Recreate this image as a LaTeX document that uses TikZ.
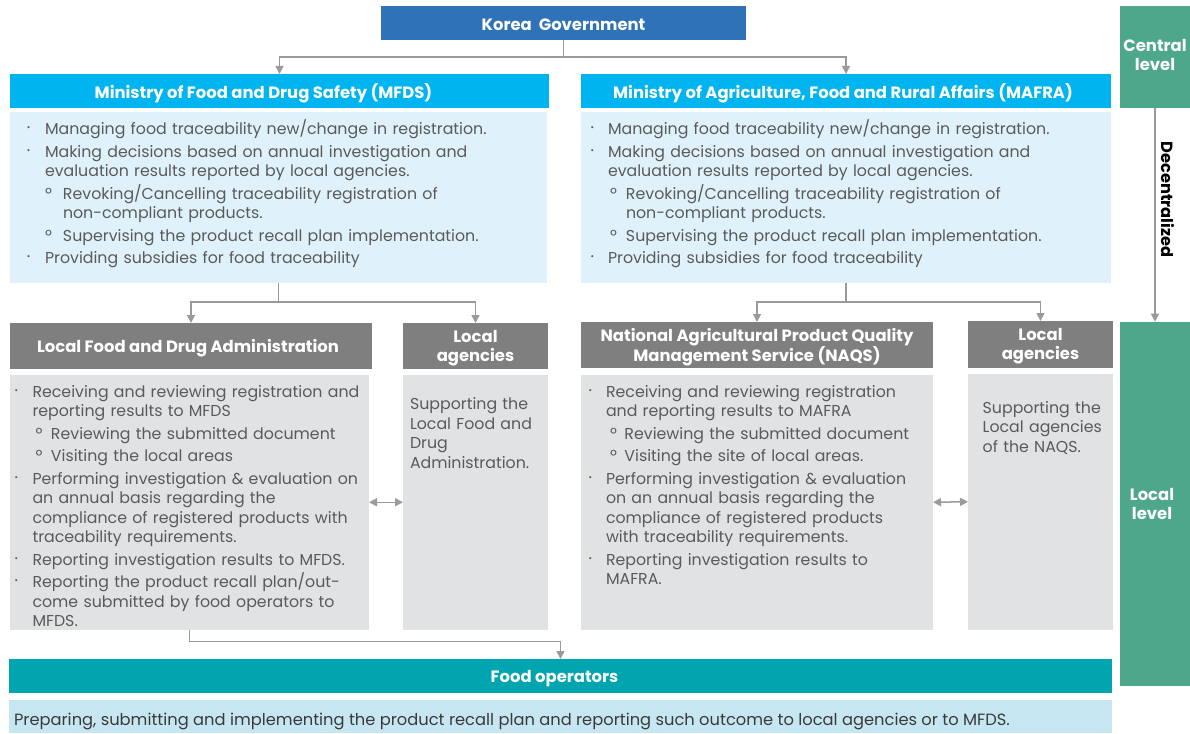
\documentclass[tikz,border=0pt]{standalone}
\usepackage{fontspec}
\setmainfont{Poppins}
\usetikzlibrary{arrows.meta,calc}
\definecolor{kgblue}{HTML}{2F72B7}
\definecolor{cyanhdr}{HTML}{00B5EF}
\definecolor{lightblue}{HTML}{DFF2FB}
\definecolor{levelgreen}{HTML}{4DA78B}
\definecolor{darkgray}{HTML}{7F7F7F}
\definecolor{lightgray}{HTML}{E1E2E4}
\definecolor{teal}{HTML}{00A5AF}
\definecolor{barblue}{HTML}{C6E7F1}
\definecolor{arrgray}{HTML}{9A9A9A}
\definecolor{txtgray}{HTML}{5A5A5A}
\definecolor{bartext}{HTML}{3A3A3A}
\newlength\bi \newlength\si \newlength\so
\newcommand\bul{\raisebox{3.6pt}{\fontsize{8.5}{8.5}\selectfont •}}
\newcommand\fitm{\hangindent=\bi\hangafter=1\noindent\makebox[\bi][l]{\bul}}
\newcommand\itm{\par\fitm}
\newcommand\sitm{\par\hangindent=\si\hangafter=1\noindent\makebox[\si][l]{\hspace{\so}º}}
\begin{document}
\begin{tikzpicture}[x=1pt,y=-1pt,
  box/.style={anchor=north west, inner sep=0pt, outer sep=0pt, draw=none},
  htxt/.style={inner sep=0pt, text=white, font=\bfseries\fontsize{16.4}{19}\selectfont, align=center},
  txt/.style={inner sep=0pt, outer sep=0pt, anchor=base west, align=left, text=txtgray, font=\fontsize{15.8}{19.5}\selectfont},
  conn/.style={draw=arrgray, line width=1.5pt, -{Triangle[width=8pt,length=8pt]}},
  dconn/.style={draw=arrgray, line width=1.5pt, {Triangle[width=8pt,length=8pt]}-{Triangle[width=8pt,length=8pt]}}]
\useasboundingbox (0,0) rectangle (1190,733);

% top level
\node[box, fill=kgblue, minimum width=365pt, minimum height=34pt] (kg) at (381,6) {};
\node[htxt] (kgL) at ($(kg.center)+(0,2)$) {Korea\ \ Government};
\node[box, fill=levelgreen, minimum width=70pt, minimum height=102pt] (central) at (1120,6) {};
\node[htxt] (centralL) at ($(central.center)+(0,-2.5)$) {Central\\level};

% ministries
\node[box, fill=cyanhdr, minimum width=539pt, minimum height=34pt] (mfdsH) at (10,74) {};
\node[htxt] (mfdsL) at ($(mfdsH.center)+(-16,2.5)$) {Ministry of Food and Drug Safety (MFDS)};
\node[box, fill=lightblue, minimum width=537pt, minimum height=171pt] (mfdsB) at (10,112) {};
\node[box, fill=cyanhdr, minimum width=530pt, minimum height=34pt] (mafraH) at (581,74) {};
\node[htxt] (mafraL) at ($(mafraH.center)+(-3,2.5)$) {Ministry of Agriculture, Food and Rural Affairs (MAFRA)};
\node[box, fill=lightblue, minimum width=530pt, minimum height=171pt] (mafraB) at (581,112) {};

\node[txt, text width=515pt] (mfdsT) at (27,134.5) {\parskip=3pt\relax\setlength\bi{18pt}\setlength\so{18pt}\setlength\si{36pt}%
\fitm Managing food traceability new/change in registration.
\itm Making decisions based on annual investigation and\newline evaluation results reported by local agencies.
\sitm Revoking/Cancelling traceability registration of\newline non-compliant products.
\sitm Supervising the product recall plan implementation.
\itm Providing subsidies for food traceability\par};

\node[txt, text width=515pt] (mafraT) at (590.5,134.5) {\parskip=3pt\relax\setlength\bi{17.5pt}\setlength\so{19.5pt}\setlength\si{35.5pt}%
\fitm Managing food traceability new/change in registration.
\itm Making decisions based on annual investigation and\newline evaluation results reported by local agencies.
\sitm Revoking/Cancelling traceability registration of\newline non-compliant products.
\sitm Supervising the product recall plan implementation.
\itm Providing subsidies for food traceability\par};

% local level
\node[box, fill=darkgray, minimum width=362pt, minimum height=46pt] (lfdaH) at (10,323) {};
\node[htxt] (lfdaL) at ($(lfdaH.center)+(-3,2.5)$) {Local Food and Drug Administration};
\node[box, fill=lightgray, minimum width=359pt, minimum height=254.5pt] (lfdaB) at (10,375) {};
\node[box, fill=darkgray, minimum width=145pt, minimum height=46pt] (la1H) at (403,323) {};
\node[htxt] (la1L) at ($(la1H.center)+(0,2.5)$) {Local\\agencies};
\node[box, fill=lightgray, minimum width=145pt, minimum height=254.5pt] (la1B) at (403,375) {};
\node[box, fill=darkgray, minimum width=352pt, minimum height=46pt] (naqsH) at (581,322) {};
\node[htxt] (naqsL) at ($(naqsH.center)+(0,2)$) {National Agricultural Product Quality\\Management Service (NAQS)};
\node[box, fill=lightgray, minimum width=352pt, minimum height=254.5pt] (naqsB) at (581,375) {};
\node[box, fill=darkgray, minimum width=145pt, minimum height=47pt] (la2H) at (968,321) {};
\node[htxt] (la2L) at ($(la2H.center)+(0,2)$) {Local\\agencies};
\node[box, fill=lightgray, minimum width=145pt, minimum height=255.5pt] (la2B) at (968,374) {};
\node[box, fill=levelgreen, minimum width=70pt, minimum height=364.3pt] (local) at (1120,321.7) {};
\node[htxt] (localL) at ($(local.center)+(-3,0)$) {Local\\level};

\node[txt, text width=350pt] (lfdaT) at (14.5,397) {\parskip=3pt\relax\setlength\bi{18pt}\setlength\so{21pt}\setlength\si{36.5pt}%
\fitm Receiving and reviewing registration and\newline reporting results to MFDS
\sitm Reviewing the submitted document
\sitm Visiting the local areas
\itm Performing investigation \& evaluation on\newline an annual basis regarding the\newline compliance of registered products with\newline traceability requirements.
\itm Reporting investigation results to MFDS.
\itm Reporting the product recall plan/out-\newline come submitted by food operators to\newline MFDS.\par};

\node[txt, text width=135pt] (la1T) at (410,409.7) {Supporting the\\Local Food and\\Drug\\Administration.};

\node[txt, text width=345pt] (naqsT) at (588.5,397) {\parskip=3pt\relax\setlength\bi{17.5pt}\setlength\so{21.5pt}\setlength\si{36pt}%
\fitm Receiving and reviewing registration\newline and reporting results to MAFRA
\sitm Reviewing the submitted document
\sitm Visiting the site of local areas.
\itm Performing investigation \& evaluation\newline on an annual basis regarding the\newline compliance of registered products\newline with traceability requirements.
\itm Reporting investigation results to\newline MAFRA.\par};

\node[txt, text width=130pt] (la2T) at (982.7,413) {Supporting the\\Local agencies\\of the NAQS.};

% food operators
\node[box, fill=teal, minimum width=1103pt, minimum height=34pt] (foodH) at (9,659) {};
\node[htxt] (foodL) at ($(foodH.center)+(-6,2.5)$) {Food operators};
\node[box, fill=barblue, minimum width=1103pt, minimum height=33pt] (foodB) at (9,700) {};
\node[txt, text=bartext, font=\fontsize{16.3}{19.5}\selectfont] (foodT) at (14,725) {Preparing, submitting and implementing the product recall plan and reporting such outcome to local agencies or to MFDS.};

% connectors
\coordinate (j1) at (563.5,57);
\draw[conn] (kg.south) -- (j1) -| (mfdsH.north);
\draw[conn] (j1) -| (mafraH.north);
\coordinate (j2) at (278.5,302);
\draw[conn] (mfdsB.south) -- (j2) -| (lfdaH.north);
\draw[conn] (j2) -| (la1H.north);
\coordinate (j3) at (846,302);
\draw[conn] (mafraB.south) -- (j3) -| (naqsH.north);
\draw[conn] (j3) -| (la2H.north);
\coordinate (j4) at (189.5,641.7);
\draw[conn] (lfdaB.south) -- (j4) -| (foodH.north);
\draw[dconn] (lfdaB.east) -- (la1B.west);
\draw[dconn] (naqsB.east) -- (la2B.west);
\draw[conn] (central.south) -- (local.north);
\node[rotate=-90, inner sep=0pt, font=\bfseries\fontsize{16.2}{19}\selectfont, text=black] (dec) at (1168,199.5) {Decentralized};
\end{tikzpicture}
\end{document}
